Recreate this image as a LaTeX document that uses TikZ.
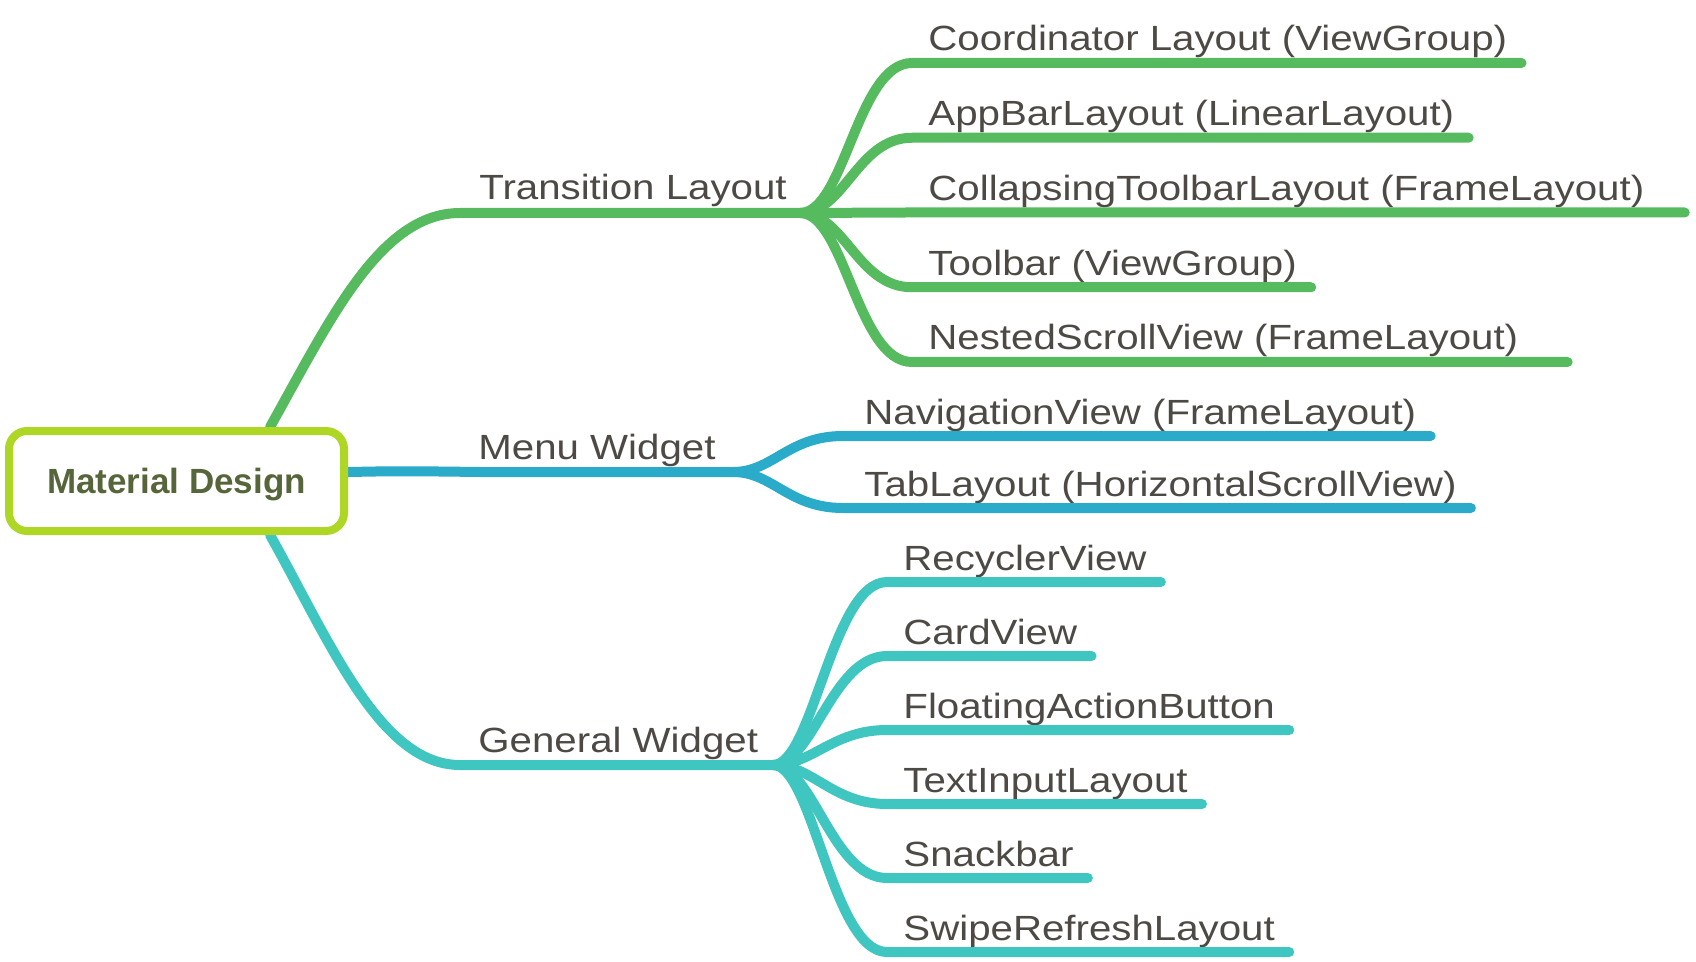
\documentclass[tikz,border=0pt]{standalone}
\usepackage{fontspec}
\setmainfont{Liberation Sans}[FakeStretch=1.15]
\newfontfamily\rootfont{Liberation Sans}
\usetikzlibrary{backgrounds}
\definecolor{inkgray}{HTML}{4D4944}
\definecolor{rootolive}{HTML}{56653A}
\definecolor{rootlime}{HTML}{AED625}
\definecolor{transgreen}{HTML}{56BB5F}
\definecolor{menublue}{HTML}{2AABC9}
\definecolor{widgetteal}{HTML}{40C6C0}
\tikzset{
    branch/.style={line width=5pt, line cap=round},
    leaftext/.style={inner sep=0pt, anchor=base west, text=inkgray, font=\fontsize{17.5}{20}\selectfont}
}

\begin{document}
\begin{tikzpicture}[x=0.5pt, y=-0.5pt]
        \useasboundingbox (0,0) rectangle (1696,962);
        \node[draw=rootlime, fill=white, line width=4pt, rounded corners=9pt, minimum width=167.5pt, minimum height=50pt, text depth=0pt, text=rootolive, font=\rootfont\bfseries\fontsize{17.5}{20}\selectfont] (root) at (176.5,481) {Material Design};
        \node[leaftext] (trans) at (479,200) {Transition Layout};
        \node[leaftext] (menu) at (478,459) {Menu Widget};
        \node[leaftext] (general) at (478,752) {General Widget};
        \coordinate (tj) at (800,213);
        \coordinate (mj) at (733,472);
        \coordinate (gj) at (773,765);
        \begin{scope}[on background layer]
            \draw[branch, transgreen] (root.30) .. controls (330,320) and (380,213) .. (460,213) -- (tj);
            \draw[branch, menublue] (root.3) .. controls (400,471) .. (480,472) -- (mj);
            \draw[branch, widgetteal] (root.-30) .. controls (330,642) and (380,765) .. (460,765) -- (gj);
        \end{scope}
        \foreach \leaf/\extra [count=\i] in {Coordinator Layout (ViewGroup)/14, AppBarLayout (LinearLayout)/14, CollapsingToolbarLayout (FrameLayout)/40, Toolbar (ViewGroup)/14, NestedScrollView (FrameLayout)/49} {
            \pgfmathsetmacro\y{63+(\i-1)*74.75}
            \node[leaftext] (tc\i) at (928,\y-12) {\leaf};
            \coordinate (ts\i) at (912,\y);
            \draw[branch, transgreen] (tj) .. controls (845,213) and (857,\y) .. (ts\i) -- (ts\i -| tc\i.east) -- ++(\extra,0);
        }
        \foreach \leaf [count=\i] in {NavigationView (FrameLayout), TabLayout (HorizontalScrollView)} {
            \pgfmathsetmacro\y{436+(\i-1)*72}
            \node[leaftext] (mc\i) at (864,\y-12) {\leaf};
            \coordinate (ms\i) at (843,\y);
            \draw[branch, menublue] (mj) .. controls (773,472) and (788,\y) .. (ms\i) -- (ms\i -| mc\i.east) -- ++(14,0);
        }
        \foreach \leaf [count=\i] in {RecyclerView, CardView, FloatingActionButton, TextInputLayout, Snackbar, SwipeRefreshLayout} {
            \pgfmathsetmacro\y{582+(\i-1)*74}
            \node[leaftext] (gc\i) at (903,\y-12) {\leaf};
            \coordinate (gs\i) at (887,\y);
            \draw[branch, widgetteal] (gj) .. controls (813,765) and (832,\y) .. (gs\i) -- (gs\i -| gc\i.east) -- ++(14,0);
        }
\end{tikzpicture}
\end{document}
